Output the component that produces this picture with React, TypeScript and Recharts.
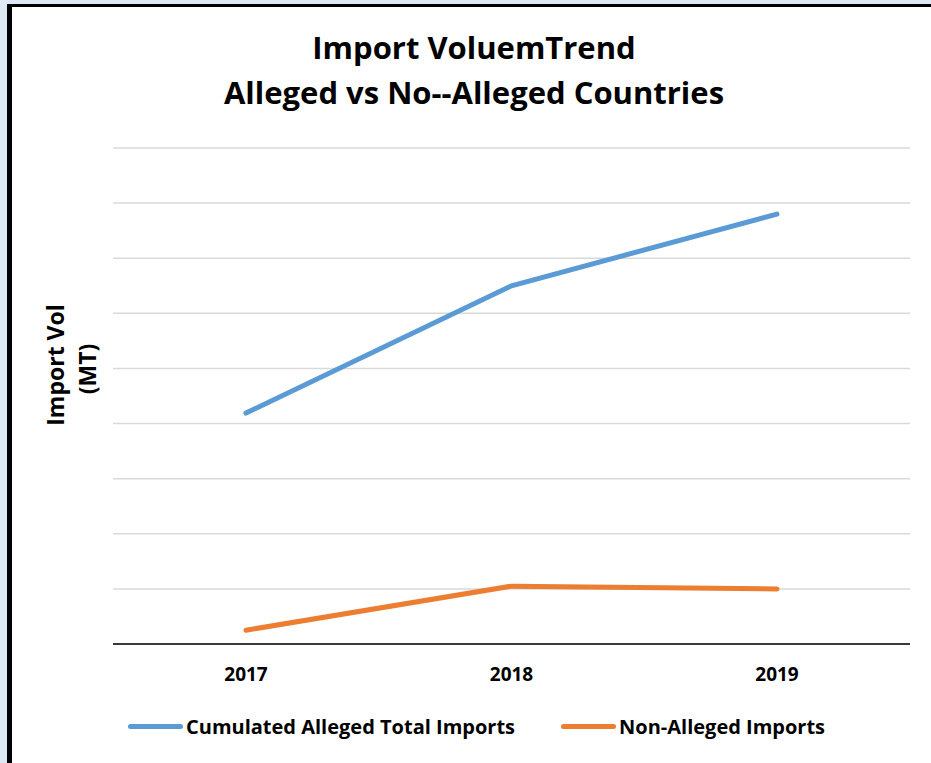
import { LineChart, Line, XAxis, YAxis, CartesianGrid } from 'recharts';

const YEARS = ['2017', '2018', '2019'];
const ALLEGED = [41900, 65000, 78000];
const NON_ALLEGED = [2500, 10500, 10000];
const Y_TICKS = [0, 10000, 20000, 30000, 40000, 50000, 60000, 70000, 80000, 90000];

const SERIES = [
  { key: 'alleged', name: 'Cumulated Alleged Total Imports', color: '#5b9bd5' },
  { key: 'nonAlleged', name: 'Non-Alleged Imports', color: '#ed7d31' },
];

const data = YEARS.map((year, i) => ({
  year,
  alleged: ALLEGED[i],
  nonAlleged: NON_ALLEGED[i],
}));

const FONT = '"Open Sans", sans-serif';

function LegendRow() {
  return (
    <div style={{ position: 'absolute', left: 128, top: 713, display: 'flex', gap: 46, fontFamily: FONT, fontWeight: 700, fontSize: 20, color: '#000', whiteSpace: 'nowrap' }}>
      {SERIES.map((s) => (
        <div key={s.key} style={{ display: 'flex', alignItems: 'center', gap: 3 }}>
          <span style={{ width: 55, height: 5, borderRadius: 3, background: s.color, display: 'inline-block' }} />
          <span>{s.name}</span>
        </div>
      ))}
    </div>
  );
}

export default function App() {
  return (
    <div style={{ position: 'relative', width: 931, height: 763, overflow: 'hidden', background: '#dee8f4' }}>
      <style>{'body{margin:0;}'}</style>
      {/* white card with the dark left/top border */}
      <div style={{ position: 'absolute', left: 7, top: 4, width: 930, height: 770, background: '#fff', borderLeft: '5px solid #000', borderTop: '3px solid #000' }} />
      <div style={{ position: 'absolute', left: 0, top: 0 }}>
        <LineChart width={931} height={763} data={data} margin={{ top: 148, right: 21, bottom: 118, left: 113 }}>
          <text x={474} y={59} textAnchor="middle" fontFamily={FONT} fontWeight={700} fontSize={31} fill="#000">
            Import VoluemTrend
          </text>
          <text x={474} y={104} textAnchor="middle" fontFamily={FONT} fontWeight={700} fontSize={31} fill="#000">
            Alleged vs No--Alleged Countries
          </text>
          <text transform="translate(64 365) rotate(-90)" textAnchor="middle" fontFamily={FONT} fontWeight={700} fontSize={23} fill="#000">
            Import Vol
          </text>
          <text transform="translate(96 369) rotate(-90)" textAnchor="middle" fontFamily={FONT} fontWeight={700} fontSize={23} fill="#000">
            (MT)
          </text>
          <CartesianGrid vertical={false} stroke="#d9d9d9" strokeWidth={1.5} />
          <XAxis
            dataKey="year"
            height={1}
            padding={{ left: 133, right: 133 }}
            axisLine={{ stroke: '#000', strokeWidth: 1.5 }}
            tickLine={false}
            tickSize={0}
            tickMargin={24}
            tick={{ fontFamily: FONT, fontWeight: 700, fontSize: 19, fill: '#000' }}
          />
          <YAxis domain={[0, 90000]} ticks={Y_TICKS} width={0} tick={{ fill: 'transparent', fontSize: 1 }} axisLine={false} tickLine={false} />
          {SERIES.map((s) => (
            <Line
              key={s.key}
              type="linear"
              dataKey={s.key}
              name={s.name}
              stroke={s.color}
              strokeWidth={5}
              strokeLinecap="round"
              dot={false}
              activeDot={false}
              isAnimationActive={false}
            />
          ))}
        </LineChart>
      </div>
      <LegendRow />
    </div>
  );
}
